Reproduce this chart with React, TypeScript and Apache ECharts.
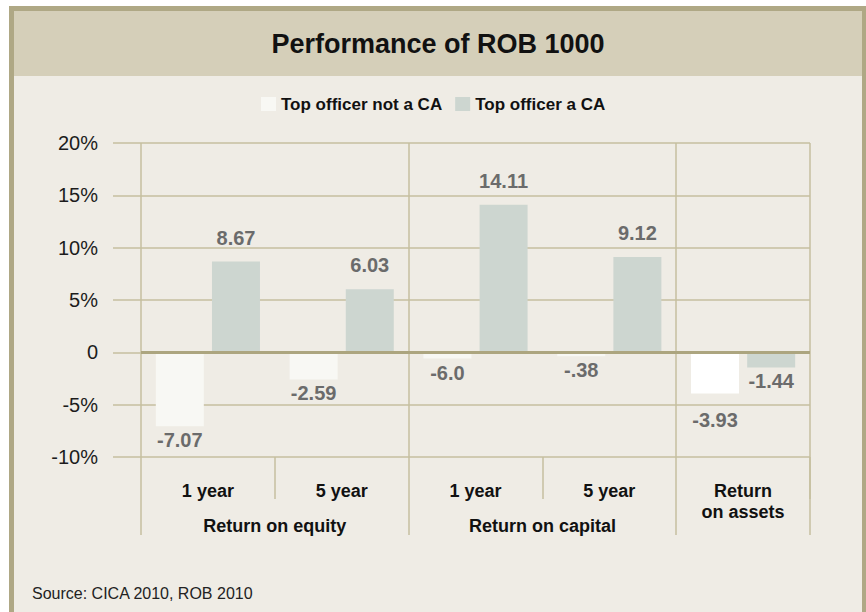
import React, { useEffect, useRef } from "react";
import * as echarts from "echarts";

// ---- data ----
const categories = ["1 year", "5 year", "1 year", "5 year", "Return\non assets"];
const groupNames = ["Return on equity", "Return on capital", ""];
const groupSpans = [2, 2, 1];
const notCAValues = [-7.07, -2.59, -0.6, -0.38, -3.93];
const notCALabels = ["-7.07", "-2.59", "-6.0", "-.38", "-3.93"];
const caValues = [8.67, 6.03, 14.11, 9.12, -1.44];
const caLabels = ["8.67", "6.03", "14.11", "9.12", "-1.44"];
const yMin = -10;
const yMax = 20;
const yStep = 5;
const seriesNames = ["Top officer not a CA", "Top officer a CA"];

// ---- styles ----
const FONT = '"Liberation Sans", Arial, Helvetica, sans-serif';
const GRID = "#c6bf9f";
const ZERO = "#aca57f";

export default function App() {
  const ref = useRef<HTMLDivElement>(null);

  useEffect(() => {
    if (!ref.current) return;
    const chart = echarts.init(ref.current, undefined, { renderer: "svg" });

    // group starts (category indices) and group label positions
    const groupStarts: number[] = [];
    const groupCenters: Record<number, string> = {};
    let acc = 0;
    groupSpans.forEach((s, i) => {
      groupStarts.push(acc);
      groupCenters[acc + s / 2] = groupNames[i];
      acc += s;
    });
    const staggeredIndex = 4; // label of the deeper bar pushed down to avoid its neighbour

    const labelBase = {
      show: true,
      fontFamily: FONT,
      fontWeight: "bold",
      fontSize: 20,
      color: "#6b6b6b",
    };

    const option: any = {
      animation: false,
      backgroundColor: "transparent",
      graphic: [
        {
          type: "rect",
          z: -20,
          silent: true,
          shape: { x: 11.5, y: 8.5, width: 853, height: 700 },
          style: { fill: "#efece5", stroke: "#afa885", lineWidth: 5 },
        },
        {
          type: "rect",
          z: -19,
          silent: true,
          shape: { x: 14, y: 11, width: 848, height: 65 },
          style: { fill: "#d5cfb9" },
        },
        {
          type: "text",
          z: 10,
          x: 438,
          y: 44,
          style: {
            text: "Performance of ROB 1000",
            font: `bold 27px ${FONT}`,
            fill: "#111",
            textAlign: "center",
            textVerticalAlign: "middle",
            align: "center",
            verticalAlign: "middle",
          },
        },
        {
          type: "text",
          z: 10,
          x: 32,
          y: 593,
          style: {
            text: "Source: CICA 2010, ROB 2010",
            font: `16px ${FONT}`,
            fill: "#222",
            textAlign: "left",
            textVerticalAlign: "middle",
            align: "left",
            verticalAlign: "middle",
          },
        },
      ],
      legend: {
        left: 261,
        top: 95,
        padding: 0,
        icon: "rect",
        itemWidth: 15,
        itemHeight: 14,
        itemGap: 13,
        selectedMode: false,
        data: seriesNames,
        textStyle: {
          fontFamily: FONT,
          fontWeight: "bold",
          fontSize: 17,
          color: "#111",
          lineHeight: 18,
        },
      },
      grid: { left: 141, top: 143, width: 669, height: 314, containLabel: false },
      xAxis: [
        {
          type: "category",
          data: categories,
          position: "bottom",
          axisLine: { show: false, onZero: false },
          axisTick: {
            show: true,
            length: 78,
            interval: (i: number) => groupStarts.includes(i),
            lineStyle: { color: GRID, width: 1.5 },
          },
          splitLine: {
            show: true,
            interval: (i: number) => groupStarts.includes(i),
            lineStyle: { color: GRID, width: 1.5 },
          },
          axisLabel: {
            interval: 0,
            margin: 23,
            fontFamily: FONT,
            fontWeight: "bold",
            fontSize: 18,
            lineHeight: 21,
            color: "#111",
          },
        },
        {
          type: "category",
          data: categories,
          position: "bottom",
          axisLine: { show: false, onZero: false },
          axisTick: {
            show: true,
            length: 42,
            interval: (i: number) => !groupStarts.includes(i),
            lineStyle: { color: GRID, width: 1.5 },
          },
          splitLine: { show: false },
          axisLabel: { show: false },
        },
        {
          type: "value",
          min: 0,
          max: categories.length,
          interval: 1,
          position: "bottom",
          axisLine: { show: false, onZero: false },
          axisTick: { show: false },
          splitLine: { show: false },
          axisLabel: {
            margin: 58,
            showMinLabel: true,
            showMaxLabel: true,
            formatter: (v: number) => groupCenters[v] || "",
            fontFamily: FONT,
            fontWeight: "bold",
            fontSize: 18,
            lineHeight: 21,
            color: "#111",
          },
        },
      ],
      yAxis: {
        type: "value",
        min: yMin,
        max: yMax,
        interval: yStep,
        axisLine: { show: false, onZero: false },
        axisTick: { show: true, length: 28, lineStyle: { color: GRID, width: 1.5 } },
        splitLine: { show: true, lineStyle: { color: GRID, width: 1.5 } },
        axisLabel: {
          margin: 43,
          formatter: (v: number) => (v === 0 ? "0" : `${v}%`),
          fontFamily: FONT,
          fontSize: 20,
          color: "#1c1c1c",
        },
      },
      series: [
        {
          name: seriesNames[0],
          type: "bar",
          xAxisIndex: 0,
          yAxisIndex: 0,
          barWidth: 48,
          barGap: "17%",
          itemStyle: { color: "#f8f8f4" },
          emphasis: { disabled: true },
          label: { ...labelBase, formatter: (p: any) => notCALabels[p.dataIndex] },
          data: notCAValues.map((v, i) => ({
            value: v,
            itemStyle: i === staggeredIndex ? { color: "#ffffff" } : undefined,
            label: {
              position: v < 0 ? "bottom" : "top",
              distance: i === staggeredIndex ? 17 : v < 0 ? 4 : 14,
            },
          })),
          markLine: {
            silent: true,
            symbol: ["none", "none"],
            label: { show: false },
            emphasis: { disabled: true },
            lineStyle: { color: ZERO, width: 3, type: "solid" },
            data: [{ yAxis: 0 }],
          },
        },
        {
          name: seriesNames[1],
          type: "bar",
          xAxisIndex: 0,
          yAxisIndex: 0,
          barWidth: 48,
          barGap: "17%",
          itemStyle: { color: "#cdd6d0" },
          emphasis: { disabled: true },
          label: { ...labelBase, formatter: (p: any) => caLabels[p.dataIndex] },
          data: caValues.map((v) => ({
            value: v,
            label: { position: v < 0 ? "bottom" : "top", distance: v < 0 ? 4 : 14 },
          })),
        },
      ],
    };

    chart.setOption(option);
    return () => chart.dispose();
  }, []);

  return (
    <div
      ref={ref}
      style={{ position: "fixed", left: 0, top: 0, width: 866, height: 612, background: "#ffffff" }}
    />
  );
}
